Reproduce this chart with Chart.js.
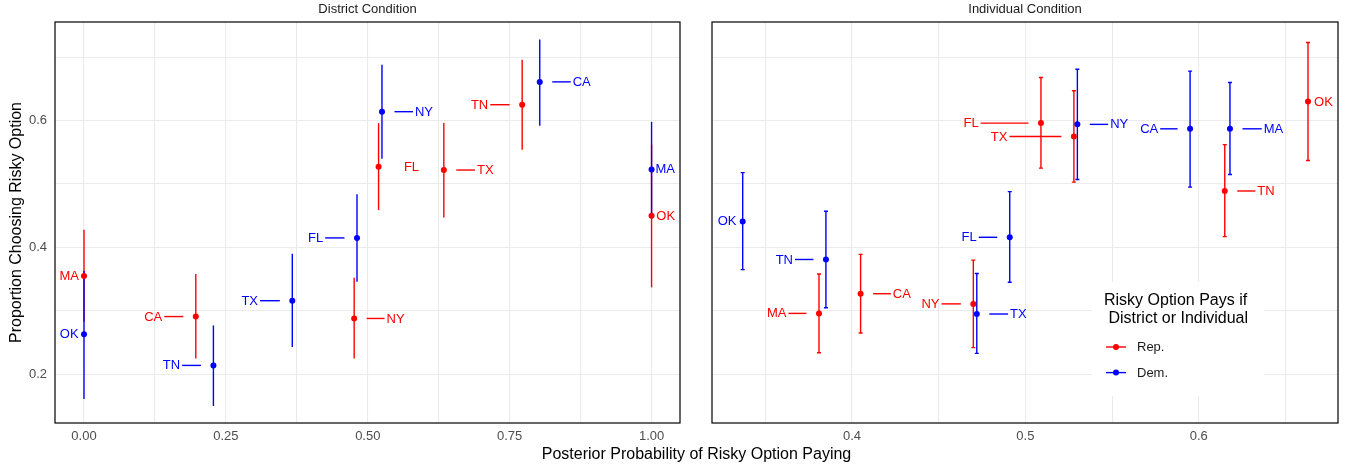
<!DOCTYPE html>
<html>
<head>
<meta charset="utf-8">
<script src="https://cdn.jsdelivr.net/npm/chart.js@4.4.1/dist/chart.umd.min.js"></script>
<style>
  html, body { margin: 0; padding: 0; background: #fff; overflow: hidden; }
  #wrap { position: relative; width: 1347px; height: 465px; }
  #leftBox { position: absolute; left: 0; top: 0; width: 690px; height: 465px; }
  #rightBox { position: absolute; left: 690px; top: 0; width: 657px; height: 465px; }
  #xTitle {
    position: absolute; left: 396px; top: 445px; width: 601px;
    text-align: center; font: 16px "Liberation Sans", Arial, sans-serif;
    line-height: 18px; color: #000;
  }
</style>
</head>
<body>
<div id="wrap">
  <div id="leftBox"><canvas id="districtChart"></canvas></div>
  <div id="rightBox"><canvas id="individualChart"></canvas></div>
  <div id="xTitle">Posterior Probability of Risky Option Paying</div>
</div>
<script>
// ---- data: District Condition ----
const districtRepStates = ["MA", "CA", "NY", "FL", "TX", "TN", "OK"];
const districtRepX = [0.0, 0.197, 0.476, 0.519, 0.634, 0.772, 1.0];
const districtRepY = [0.355, 0.291, 0.288, 0.527, 0.522, 0.625, 0.450];
const districtRepLo = [0.283, 0.225, 0.225, 0.459, 0.447, 0.554, 0.337];
const districtRepHi = [0.428, 0.358, 0.352, 0.596, 0.596, 0.696, 0.562];

const districtDemStates = ["OK", "TN", "TX", "FL", "NY", "CA", "MA"];
const districtDemX = [0.0, 0.228, 0.367, 0.481, 0.525, 0.803, 1.0];
const districtDemY = [0.263, 0.214, 0.316, 0.415, 0.614, 0.661, 0.523];
const districtDemLo = [0.161, 0.150, 0.243, 0.346, 0.540, 0.592, 0.447];
const districtDemHi = [0.363, 0.277, 0.390, 0.484, 0.688, 0.728, 0.598];

// ---- data: Individual Condition ----
const individualRepStates = ["MA", "CA", "NY", "FL", "TX", "TN", "OK"];
const individualRepX = [0.381, 0.405, 0.470, 0.509, 0.528, 0.615, 0.663];
const individualRepY = [0.296, 0.327, 0.311, 0.596, 0.575, 0.489, 0.630];
const individualRepLo = [0.234, 0.265, 0.242, 0.525, 0.503, 0.417, 0.537];
const individualRepHi = [0.358, 0.389, 0.380, 0.668, 0.647, 0.562, 0.723];

const individualDemStates = ["OK", "TN", "TX", "FL", "NY", "CA", "MA"];
const individualDemX = [0.337, 0.385, 0.472, 0.491, 0.530, 0.595, 0.618];
const individualDemY = [0.441, 0.381, 0.295, 0.416, 0.594, 0.587, 0.587];
const individualDemLo = [0.365, 0.305, 0.233, 0.345, 0.507, 0.495, 0.515];
const individualDemHi = [0.518, 0.457, 0.359, 0.488, 0.681, 0.678, 0.660];

// ---- axis ticks ----
const yTicks = [0.2, 0.4, 0.6];
const yTickLabels = ["0.2", "0.4", "0.6"];
const yMinorTicks = [0.3, 0.5, 0.7];
const districtXTicks = [0, 0.25, 0.5, 0.75, 1.0];
const districtXTickLabels = ["0.00", "0.25", "0.50", "0.75", "1.00"];
const districtXMinorTicks = [0.125, 0.375, 0.625, 0.875];
const individualXTicks = [0.4, 0.5, 0.6];
const individualXTickLabels = ["0.4", "0.5", "0.6"];
const individualXMinorTicks = [0.35, 0.45, 0.55, 0.65];

const legendTitle = ["Risky Option Pays if", " District or Individual"];
const partyNames = ["Rep.", "Dem."];

// where the repelled state labels sit (x in data units) and whether a leader line is drawn
const districtRepLabelX = [-0.026, 0.122, 0.549, 0.577, 0.707, 0.697, 1.025];
const districtRepLeader = [false, true, true, false, true, true, false];
const districtDemLabelX = [-0.026, 0.154, 0.292, 0.408, 0.599, 0.877, 1.024];
const districtDemLeader = [false, true, true, true, true, true, false];
const individualRepLabelX = [0.3566, 0.4288, 0.4453, 0.4687, 0.4849, 0.6388, 0.6719];
const individualRepLeader = [true, true, true, true, true, true, false];
const individualDemLabelX = [0.328, 0.361, 0.496, 0.4676, 0.5541, 0.5714, 0.6431];
const individualDemLeader = [false, true, true, true, true, true, true];

const REP = "#ff0000";
const DEM = "#0000ff";
const FONT = "'Liberation Sans', Arial, sans-serif";
Chart.defaults.font.family = FONT;

const toPoints = (xs, ys) => xs.map((x, i) => ({ x, y: ys[i] }));

function tickLookup(major, labels, minor) {
  const all = major.concat(minor).sort((a, b) => a - b);
  return {
    all,
    label: (v) => {
      const i = major.findIndex((m) => Math.abs(m - v) < 1e-9);
      return i >= 0 ? labels[i] : "";
    },
  };
}

function marksPlugin(groups, capHalf, facetTitle) {
  return {
    id: "marks",
    beforeDatasetsDraw(chart) {
      const { ctx, scales: { x, y } } = chart;
      ctx.save();
      ctx.lineWidth = 1.4;
      groups.forEach((g) => {
        ctx.strokeStyle = g.color;
        g.x.forEach((xv, i) => {
          const px = x.getPixelForValue(xv);
          const top = y.getPixelForValue(g.hi[i]);
          const bot = y.getPixelForValue(g.lo[i]);
          ctx.beginPath();
          ctx.moveTo(px, top);
          ctx.lineTo(px, bot);
          if (capHalf) {
            ctx.moveTo(px - capHalf, top);
            ctx.lineTo(px + capHalf, top);
            ctx.moveTo(px - capHalf, bot);
            ctx.lineTo(px + capHalf, bot);
          }
          ctx.stroke();
        });
      });
      ctx.restore();
    },
    afterDatasetsDraw(chart) {
      const { ctx, chartArea, scales: { x, y } } = chart;
      ctx.save();
      ctx.font = "13px " + FONT;
      ctx.textAlign = "center";
      ctx.textBaseline = "middle";
      ctx.lineWidth = 1.4;
      groups.forEach((g) => {
        ctx.fillStyle = g.color;
        ctx.strokeStyle = g.color;
        g.states.forEach((s, i) => {
          const px = x.getPixelForValue(g.x[i]);
          const py = y.getPixelForValue(g.y[i]);
          const lx = x.getPixelForValue(g.labelX[i]);
          ctx.fillText(s, lx, py + 0.5);
          if (g.leader[i]) {
            const d = lx > px ? 1 : -1;
            const w = ctx.measureText(s).width;
            const edge = lx - d * w / 2;
            ctx.beginPath();
            ctx.moveTo(px + d * 12.5, py);
            ctx.lineTo(edge - d * 2, py);
            ctx.stroke();
          }
        });
      });
      // panel border
      ctx.strokeStyle = "#000";
      ctx.lineWidth = 1.2;
      ctx.strokeRect(chartArea.left, chartArea.top, chartArea.right - chartArea.left, chartArea.bottom - chartArea.top);
      // facet strip title
      ctx.fillStyle = "#1a1a1a";
      ctx.font = "13px " + FONT;
      ctx.fillText(facetTitle, (chartArea.left + chartArea.right) / 2, 9);
      ctx.restore();
    },
  };
}

const legendPlugin = {
  id: "insetLegend",
  afterDraw(chart) {
    const { ctx } = chart;
    ctx.save();
    ctx.fillStyle = "#fff";
    ctx.fillRect(402, 282, 172, 114);
    ctx.fillStyle = "#000";
    ctx.font = "16px " + FONT;
    ctx.textAlign = "left";
    ctx.textBaseline = "middle";
    ctx.fillText(legendTitle[0], 414, 301);
    ctx.fillText(legendTitle[1], 414, 319);
    ctx.font = "13px " + FONT;
    chart.data.datasets.slice(0, 2).forEach((ds, i) => {
      const yy = 347 + i * 25.6;
      ctx.strokeStyle = ds.backgroundColor;
      ctx.fillStyle = ds.backgroundColor;
      ctx.lineWidth = 1.4;
      ctx.beginPath();
      ctx.moveTo(416, yy);
      ctx.lineTo(436, yy);
      ctx.stroke();
      ctx.beginPath();
      ctx.arc(426, yy, 3, 0, Math.PI * 2);
      ctx.fill();
      ctx.fillStyle = "#1a1a1a";
      ctx.fillText(partyNames[i], 447, yy + 0.5);
    });
    ctx.restore();
  },
};

function gridColor() {
  return "#ebebeb";
}

function buildChart(canvas, cfg) {
  const xt = tickLookup(cfg.xTicks, cfg.xLabels, cfg.xMinor);
  const yt = tickLookup(yTicks, yTickLabels, yMinorTicks);
  return new Chart(canvas, {
    type: "scatter",
    data: {
      datasets: [
        { label: partyNames[0], data: toPoints(cfg.rep.x, cfg.rep.y), backgroundColor: REP, pointRadius: 3, pointBorderWidth: 0, pointHoverRadius: 3 },
        { label: partyNames[1], data: toPoints(cfg.dem.x, cfg.dem.y), backgroundColor: DEM, pointRadius: 3, pointBorderWidth: 0, pointHoverRadius: 3 },
      ],
    },
    options: {
      responsive: true,
      maintainAspectRatio: false,
      animation: false,
      events: [],
      layout: { padding: { top: 22, right: cfg.padRight, bottom: 0, left: 0 } },
      plugins: { legend: { display: false }, tooltip: { enabled: false } },
      scales: {
        x: {
          type: "linear",
          min: cfg.xMin,
          max: cfg.xMax,
          afterBuildTicks: (s) => { s.ticks = xt.all.map((v) => ({ value: v })); },
          afterFit: (s) => { s.height = 42; },
          grid: { color: gridColor, lineWidth: 1.1, drawTicks: false },
          border: { display: false },
          ticks: {
            color: "#4d4d4d",
            font: { size: 13 },
            padding: 6,
            autoSkip: false,
            maxRotation: 0,
            callback: (v) => xt.label(v),
          },
        },
        y: {
          type: "linear",
          min: 0.1232,
          max: 0.7554,
          afterBuildTicks: (s) => { s.ticks = yt.all.map((v) => ({ value: v })); },
          afterFit: (s) => { s.width = cfg.yWidth; },
          grid: { color: gridColor, lineWidth: 1.1, drawTicks: false },
          border: { display: false },
          title: {
            display: cfg.showY,
            text: "Proportion Choosing Risky Option",
            color: "#000",
            font: { size: 16 },
            padding: { top: 7, bottom: 0 },
          },
          ticks: {
            display: cfg.showY,
            color: "#4d4d4d",
            font: { size: 13 },
            padding: 8,
            autoSkip: false,
            callback: (v) => yt.label(v),
          },
        },
      },
    },
    plugins: [marksPlugin(cfg.groups, cfg.cap, cfg.title)].concat(cfg.extra),
  });
}

buildChart(document.getElementById("districtChart"), {
  title: "District Condition",
  xMin: -0.0511, xMax: 1.0501,
  xTicks: districtXTicks, xLabels: districtXTickLabels, xMinor: districtXMinorTicks,
  yWidth: 55, padRight: 10, showY: true, cap: 0, extra: [],
  rep: { x: districtRepX, y: districtRepY },
  dem: { x: districtDemX, y: districtDemY },
  groups: [
    { color: REP, states: districtRepStates, x: districtRepX, y: districtRepY, lo: districtRepLo, hi: districtRepHi, labelX: districtRepLabelX, leader: districtRepLeader },
    { color: DEM, states: districtDemStates, x: districtDemX, y: districtDemY, lo: districtDemLo, hi: districtDemHi, labelX: districtDemLabelX, leader: districtDemLeader },
  ],
});

buildChart(document.getElementById("individualChart"), {
  title: "Individual Condition",
  xMin: 0.3193, xMax: 0.6803,
  xTicks: individualXTicks, xLabels: individualXTickLabels, xMinor: individualXMinorTicks,
  yWidth: 22, padRight: 9, showY: false, cap: 2, extra: [legendPlugin],
  rep: { x: individualRepX, y: individualRepY },
  dem: { x: individualDemX, y: individualDemY },
  groups: [
    { color: REP, states: individualRepStates, x: individualRepX, y: individualRepY, lo: individualRepLo, hi: individualRepHi, labelX: individualRepLabelX, leader: individualRepLeader },
    { color: DEM, states: individualDemStates, x: individualDemX, y: individualDemY, lo: individualDemLo, hi: individualDemHi, labelX: individualDemLabelX, leader: individualDemLeader },
  ],
});
</script>
</body>
</html>
